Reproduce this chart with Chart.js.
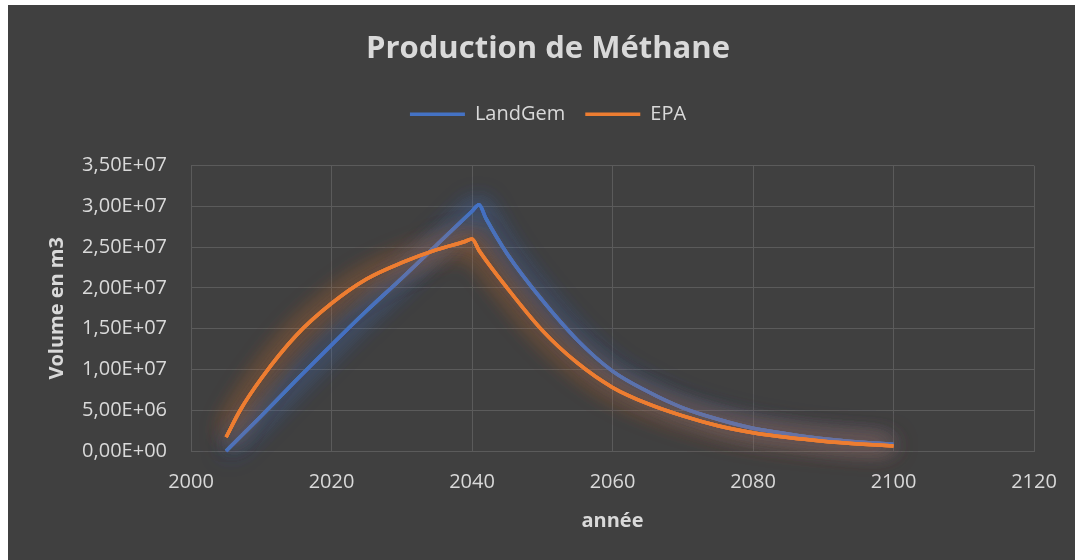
<!DOCTYPE html>
<html>
<head>
<meta charset="utf-8">
<script src="https://cdn.jsdelivr.net/npm/chart.js@4.4.1/dist/chart.umd.min.js"></script>
<style>
  html, body { margin: 0; padding: 0; background: #ffffff; }
  #wrap { position: absolute; left: 8px; top: 5px; width: 1067px; height: 555px; background: #404040; }
</style>
</head>
<body>
<div id="wrap"><canvas id="methaneChart"></canvas></div>
<script>
// values
const landgemYears = [2005, 2010, 2015, 2020, 2025, 2030, 2035, 2040, 2041, 2042, 2045, 2050, 2055, 2060, 2065, 2070, 2075, 2080, 2085, 2090, 2095, 2100];
const landgemValues = [0, 4.3e6, 8.7e6, 1.30e7, 1.72e7, 2.12e7, 2.53e7, 2.94e7, 3.02e7, 2.85e7, 2.42e7, 1.85e7, 1.36e7, 9.8e6, 7.3e6, 5.3e6, 3.9e6, 2.8e6, 2.1e6, 1.5e6, 1.1e6, 8.3e5];

const epaYears = [2005, 2007, 2010, 2015, 2020, 2025, 2030, 2035, 2039, 2040, 2041, 2045, 2050, 2055, 2060, 2065, 2070, 2075, 2080, 2085, 2090, 2095, 2100];
const epaValues = [1.7e6, 5.0e6, 8.9e6, 1.42e7, 1.81e7, 2.11e7, 2.31e7, 2.47e7, 2.57e7, 2.60e7, 2.46e7, 2.0e7, 1.48e7, 1.08e7, 7.8e6, 5.8e6, 4.3e6, 3.1e6, 2.25e6, 1.65e6, 1.2e6, 8.7e5, 6.2e5];

const seriesNames = ['LandGem', 'EPA'];
const xTickMin = 2000, xTickMax = 2120, xTickStep = 20;
const yTickMin = 0, yTickMax = 3.5e7, yTickStep = 5e6;

const textColor = '#d9d9d9';
const gridColor = '#5b5b5b';

Chart.defaults.font.family = "'Open Sans', 'Noto Sans', sans-serif";

function toPoints(xs, ys) {
    return xs.map((x, i) => ({ x: x, y: ys[i] }));
}

// 3.5e7 -> "3,50E+07"
function sciLabel(v) {
    const parts = Number(v).toExponential(2).split('e');
    const exp = parseInt(parts[1], 10);
    const sign = exp < 0 ? '-' : '+';
    return parts[0].replace('.', ',') + 'E' + sign + String(Math.abs(exp)).padStart(2, '0');
}

// soft glow under each line, like the Excel style
// (extra passes of the line with a shadow, then the normal draw also gets it)
const glowPlugin = {
    id: 'glow',
    beforeDatasetDraw(chart, args) {
        const ctx = chart.ctx;
        ctx.save();
        ctx.shadowColor = chart.data.datasets[args.index].glowColor;
        ctx.shadowBlur = 26;
        args.meta.dataset.draw(ctx, chart.chartArea);
        args.meta.dataset.draw(ctx, chart.chartArea);
    },
    afterDatasetDraw(chart) {
        chart.ctx.restore();
    }
};

const ctx = document.getElementById('methaneChart').getContext('2d');
new Chart(ctx, {
    type: 'line',
    data: {
        datasets: [
            {
                label: seriesNames[0],
                data: toPoints(landgemYears, landgemValues),
                borderColor: '#4472c4',
                backgroundColor: '#4472c4',
                glowColor: 'rgba(68, 114, 196, 0.8)',
                borderWidth: 3.5,
                pointRadius: 0,
                fill: false,
                cubicInterpolationMode: 'monotone',
                clip: false,
                order: 1
            },
            {
                label: seriesNames[1],
                data: toPoints(epaYears, epaValues),
                borderColor: '#ed7d31',
                backgroundColor: '#ed7d31',
                glowColor: 'rgba(237, 125, 49, 0.7)',
                borderWidth: 3.5,
                pointRadius: 0,
                fill: false,
                cubicInterpolationMode: 'monotone',
                clip: false,
                order: 0
            }
        ]
    },
    options: {
        responsive: true,
        maintainAspectRatio: false,
        animation: false,
        layout: { padding: { left: 13, right: 0, top: 0, bottom: 17 } },
        plugins: {
            title: {
                display: true,
                text: 'Production de Méthane',
                color: textColor,
                font: { size: 31, weight: 'bold' },
                padding: { top: 26, bottom: 16 }
            },
            legend: {
                display: true,
                labels: {
                    color: textColor,
                    font: { size: 20 },
                    usePointStyle: true,
                    pointStyle: 'line',
                    pointStyleWidth: 55,
                    padding: 20,
                    sort: (a, b) => a.datasetIndex - b.datasetIndex
                }
            },
            // empty spacer between legend and plot
            subtitle: {
                display: true,
                text: '',
                weight: 100,
                font: { size: 10 },
                padding: { top: 19.5, bottom: 0 }
            },
            tooltip: { enabled: false }
        },
        scales: {
            x: {
                type: 'linear',
                min: xTickMin,
                max: xTickMax,
                ticks: {
                    stepSize: xTickStep,
                    color: textColor,
                    font: { size: 20 },
                    padding: 19,
                    callback: v => String(v)
                },
                grid: { color: gridColor, drawTicks: false },
                border: { color: gridColor },
                title: {
                    display: true,
                    text: 'année',
                    color: textColor,
                    font: { size: 20, weight: 'bold' },
                    padding: { top: 15, bottom: 10 }
                },
                afterFit: scale => {
                    scale.height = 92;
                    scale.paddingRight = 41;
                }
            },
            y: {
                min: yTickMin,
                max: yTickMax,
                ticks: {
                    stepSize: yTickStep,
                    color: textColor,
                    font: { size: 20 },
                    padding: 24,
                    callback: v => sciLabel(v)
                },
                grid: { color: gridColor, drawTicks: false },
                border: { color: gridColor },
                title: {
                    display: true,
                    text: 'Volume en m3',
                    color: textColor,
                    font: { size: 20, weight: 'bold' },
                    padding: { top: 24, bottom: 0 }
                },
                afterFit: scale => { scale.width = 170; }
            }
        }
    },
    plugins: [glowPlugin]
});
</script>
</body>
</html>
